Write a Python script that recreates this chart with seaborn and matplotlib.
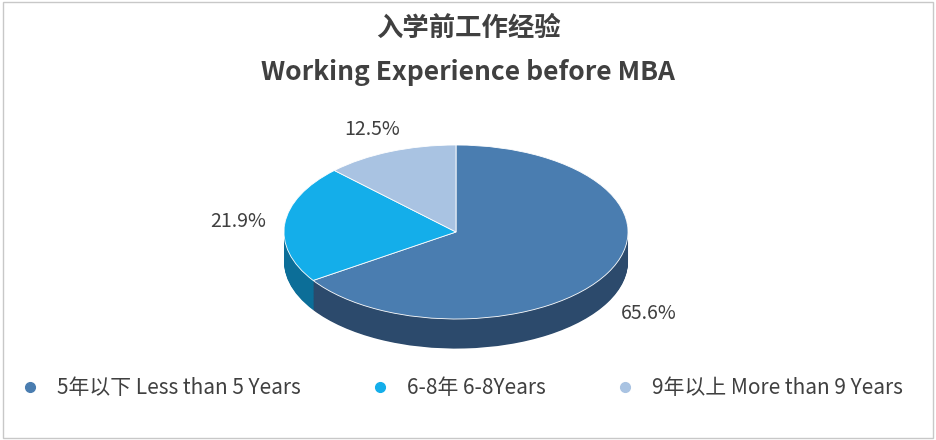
import matplotlib
matplotlib.use("Agg")
import matplotlib.pyplot as plt
import seaborn as sns
import numpy as np
from matplotlib.patches import Rectangle

sns.set_theme(style="white")
plt.rcParams['font.family'] = ['Noto Sans CJK SC', 'DejaVu Sans']

categories = ["5年以下 Less than 5 Years", "6-8年 6-8Years", "9年以上 More than 9 Years"]
values = [65.6, 21.9, 12.5]
colors = ["#4A7DB0", "#14AEEA", "#A9C3E2"]
side_colors = ["#2C4A6C", "#0C6E98", "#6F88A8"]

fig = plt.figure(figsize=(9.36, 4.4), dpi=100)
W, H = 936, 440
cx, cy, rx, ry = 456, 232, 172, 87
depth = 0.34
ax = fig.add_axes([(cx - 1.2*rx)/W, (H - cy - 1.2*ry)/H, 2.4*rx/W, 2.4*ry/H])

for d in np.linspace(depth, 0.01, 40):
    ax.pie(values, colors=side_colors, startangle=90, counterclock=False,
           center=(0, -d), radius=1, wedgeprops=dict(linewidth=0), frame=True)
wedges, _ = ax.pie(values, colors=colors, startangle=90, counterclock=False,
                   center=(0, 0), radius=1, wedgeprops=dict(linewidth=0.6, edgecolor="white"),
                   frame=True)
ax.set_aspect('auto')
ax.set_xlim(-1.2, 1.2); ax.set_ylim(-1.2, 1.2)
ax.axis('off')

for w, v in zip(wedges, values):
    a = np.deg2rad((w.theta1 + w.theta2) / 2)
    x, y = 1.27*np.cos(a), 1.28*np.sin(a)
    if y < 0:
        y -= depth
    ax.text(x, y, f"{v:.1f}%", ha='center', va='center', fontsize=14, color="#404040")

fig.text(0.5, 1 - 28/H, "入学前工作经验", ha='center', va='center', fontsize=19,
         fontweight='bold', color="#404040")
fig.text(0.5, 1 - 72/H, "Working Experience before MBA", ha='center', va='center',
         fontsize=19, fontweight='bold', color="#404040")

handles = [plt.Line2D([], [], marker='o', linestyle='', color=c, markersize=7) for c in colors]
fig.legend(handles, categories, loc='center', bbox_to_anchor=(0.487, 1 - 388/H), ncol=3,
           frameon=False, fontsize=15, handletextpad=0.3, columnspacing=2.8,
           labelcolor="#404040")

fig.patches.append(Rectangle((0.003, 0.005), 0.994, 0.99, transform=fig.transFigure,
                             fill=False, edgecolor="#C8C8C8", linewidth=1))
fig.savefig("out.png", dpi=100, facecolor="white")
